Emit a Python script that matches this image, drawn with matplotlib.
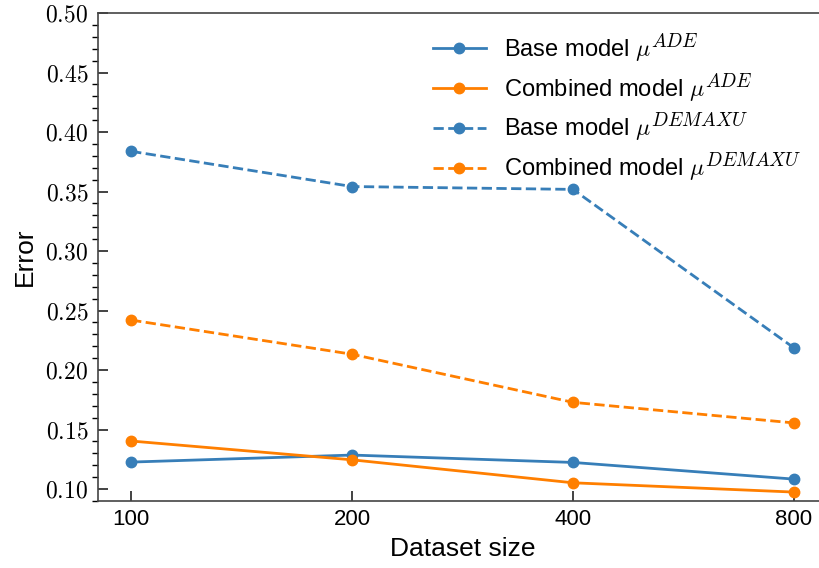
import numpy as np
import matplotlib
matplotlib.use('Agg')
import matplotlib.pyplot as plt
from matplotlib.ticker import MultipleLocator, FuncFormatter
import matplotlib._mathtext as mt

# superscripts a bit larger, closer to the TeX look of the original
mt.SHRINK_FACTOR = 0.82

plt.rcParams['font.family'] = ['Liberation Sans', 'DejaVu Sans']
plt.rcParams['mathtext.fontset'] = 'cm'

# dataset sizes (categorical positions)
sizes = ['100', '200', '400', '800']
base_ade = [0.1227, 0.1286, 0.1224, 0.1084]
comb_ade = [0.1404, 0.1246, 0.1053, 0.0975]
base_demaxu = [0.3838, 0.3542, 0.3518, 0.2187]
comb_demaxu = [0.2420, 0.2133, 0.1729, 0.1556]

blue = '#377eb8'
orange = '#ff7f00'

fig = plt.figure(figsize=(8.19, 5.68), dpi=100)
ax = fig.add_axes([98 / 819, 1 - 501 / 568, 729 / 819, 488 / 568])

x = np.arange(len(sizes))
ax.plot(x, base_ade, '-o', color=blue, lw=2, ms=7.5, label=r'Base model $\mu^{ADE}$')
ax.plot(x, comb_ade, '-o', color=orange, lw=2, ms=7.5, label=r'Combined model $\mu^{ADE}$')
ax.plot(x, base_demaxu, '--o', color=blue, lw=2, ms=7.5, label=r'Base model $\mu^{DEMAXU}$')
ax.plot(x, comb_demaxu, '--o', color=orange, lw=2, ms=7.5, label=r'Combined model $\mu^{DEMAXU}$')

ax.set_xlim(-0.15, 3.15)
ax.set_ylim(0.09, 0.50)
ax.set_xticks(x)
ax.set_xticklabels(sizes, fontsize=16)
ax.yaxis.set_major_locator(MultipleLocator(0.05))
ax.yaxis.set_minor_locator(MultipleLocator(0.01))
ax.yaxis.set_major_formatter(FuncFormatter(lambda v, p: r'$%.2f$' % v))
ax.tick_params(axis='y', labelsize=17, pad=7)
ax.tick_params(axis='x', pad=6)
ax.tick_params(direction='in', colors='#222222', labelcolor='black')
ax.tick_params(which='major', length=7, width=1.2)
ax.tick_params(which='minor', length=4, width=1)
for s in ax.spines.values():
    s.set_color('#444444')
    s.set_linewidth(1.2)

ax.set_xlabel('Dataset size', fontsize=19, labelpad=5)
ax.set_ylabel('Error', fontsize=19, labelpad=6)

ax.legend(loc='upper left', bbox_to_anchor=(0.43, 1.007), frameon=False,
          fontsize=17, handlelength=2.25, handletextpad=0.75, labelspacing=0.3)

fig.savefig('out.png', dpi=100)
